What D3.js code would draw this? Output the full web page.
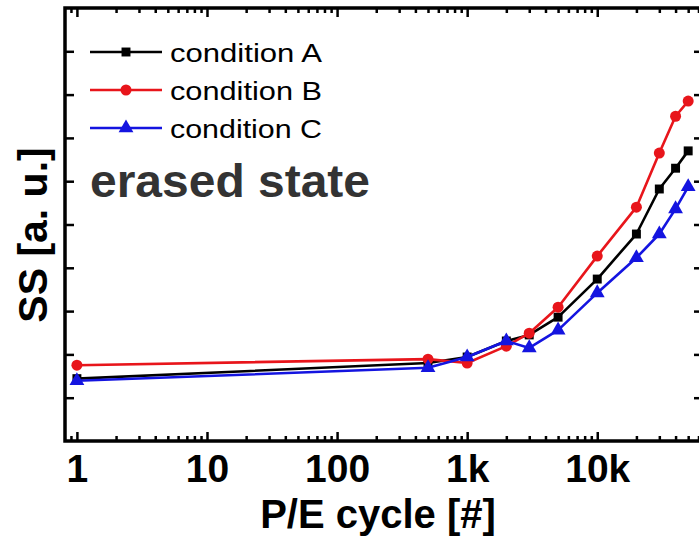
<!DOCTYPE html>
<html>
<head>
<meta charset="utf-8">
<script src="https://cdn.jsdelivr.net/npm/d3@7"></script>
<style>
  html, body { margin: 0; padding: 0; background: #fff; }
  svg { display: block; }
  text { font-family: "Liberation Sans", Arial, Helvetica, sans-serif; }
</style>
</head>
<body>
<svg id="chart" width="699" height="538"></svg>
<script>
// P/E cycle counts at which SS was measured
const cycles = [1, 500, 1000, 2000, 3000, 5000, 10000, 20000, 30000, 40000, 50000];
// SS values (arbitrary units) per condition
const condA = [1.44, 1.80, 1.94, 2.31, 2.45, 2.86, 3.74, 4.78, 5.82, 6.30, 6.70];
const condB = [1.75, 1.89, 1.80, 2.19, 2.49, 3.09, 4.27, 5.40, 6.65, 7.50, 7.85];
const condC = [1.39, 1.69, 1.94, 2.31, 2.15, 2.56, 3.42, 4.23, 4.78, 5.36, 5.87];

const seriesNames = ["condition A", "condition B", "condition C"];
const seriesColors = ["#000000", "#e8151b", "#1414e0"];
const seriesSymbols = [d3.symbolSquare, d3.symbolCircle, d3.symbolTriangle];
const seriesSymbolSizes = [80, 95, 95];

const xMajorTicks = [1, 10, 100, 1000, 10000];
const xTickLabels = ["1", "10", "100", "1k", "10k"];
const yTicks = [1, 2, 3, 4, 5, 6, 7, 8, 9];

const svg = d3.select("#chart");
const plotLeft = 65, plotRight = 703, plotTop = 8, plotBottom = 441;

const x = d3.scaleLog().domain([0.81, 65000]).range([plotLeft, plotRight]);
const y = d3.scaleLinear().domain([0, 10]).range([plotBottom, plotTop]);

// minor ticks: 2..9 within each decade
const xMinorTicks = [];
for (let dec = 0.1; dec <= 10000; dec *= 10) {
  for (let m = 2; m <= 9; m++) {
    const v = +(dec * m).toPrecision(3);
    if (v > x.domain()[0] && v < x.domain()[1]) xMinorTicks.push(v);
  }
}

const styleAxis = g => {
  g.select(".domain").remove();
  g.selectAll(".tick line").attr("stroke", "#000").attr("stroke-width", 2.5);
};

// bottom axis: major ticks with labels, inward
svg.append("g")
  .attr("transform", `translate(0,${plotBottom})`)
  .call(d3.axisBottom(x).tickValues(xMajorTicks).tickSize(-9).tickPadding(29)
        .tickFormat((d, i) => xTickLabels[i]))
  .call(styleAxis)
  .call(g => g.selectAll(".tick text")
    .attr("fill", "#000").attr("font-size", 39).attr("font-weight", "bold")
    .attr("font-family", "'Liberation Sans', Arial, sans-serif")
    .attr("dy", "0.32em"));

svg.append("g")
  .attr("transform", `translate(0,${plotBottom})`)
  .call(d3.axisBottom(x).tickValues(xMinorTicks).tickSize(-5).tickFormat(""))
  .call(styleAxis);

// top axis: mirrored ticks, no labels
svg.append("g")
  .attr("transform", `translate(0,${plotTop})`)
  .call(d3.axisTop(x).tickValues(xMajorTicks).tickSize(-9).tickFormat(""))
  .call(styleAxis);
svg.append("g")
  .attr("transform", `translate(0,${plotTop})`)
  .call(d3.axisTop(x).tickValues(xMinorTicks).tickSize(-5).tickFormat(""))
  .call(styleAxis);

// left and right axes: inward ticks, no labels
svg.append("g")
  .attr("transform", `translate(${plotLeft},0)`)
  .call(d3.axisLeft(y).tickValues(yTicks).tickSize(-9).tickFormat(""))
  .call(styleAxis);
svg.append("g")
  .attr("transform", `translate(${plotRight},0)`)
  .call(d3.axisRight(y).tickValues(yTicks).tickSize(-9).tickFormat(""))
  .call(styleAxis);

// plot frame
svg.append("rect")
  .attr("x", plotLeft).attr("y", plotTop)
  .attr("width", plotRight - plotLeft).attr("height", plotBottom - plotTop)
  .attr("fill", "none").attr("stroke", "#000").attr("stroke-width", 3.5);

// data series
const seriesValues = [condA, condB, condC];
const line = d3.line().x(d => x(d[0])).y(d => y(d[1]));

seriesValues.forEach((vals, si) => {
  const pts = cycles.map((c, i) => [c, vals[i]]);
  const g = svg.append("g");
  g.append("path")
    .attr("d", line(pts))
    .attr("fill", "none")
    .attr("stroke", seriesColors[si])
    .attr("stroke-width", 2.6)
    .attr("stroke-linejoin", "round");
  g.selectAll("path.pt").data(pts).join("path")
    .attr("class", "pt")
    .attr("transform", d => `translate(${x(d[0])},${y(d[1])})`)
    .attr("d", d3.symbol().type(seriesSymbols[si]).size(seriesSymbolSizes[si]))
    .attr("fill", seriesColors[si]);
});

// legend
const legend = svg.append("g");
const legendRows = [52, 90, 128];
seriesNames.forEach((name, si) => {
  const ly = legendRows[si];
  legend.append("line")
    .attr("x1", 90).attr("x2", 162).attr("y1", ly).attr("y2", ly)
    .attr("stroke", seriesColors[si]).attr("stroke-width", 2.6);
  legend.append("path")
    .attr("transform", `translate(126,${ly})`)
    .attr("d", d3.symbol().type(seriesSymbols[si]).size(seriesSymbolSizes[si]))
    .attr("fill", seriesColors[si]);
  legend.append("text")
    .attr("x", 170).attr("y", ly + 10)
    .attr("font-size", 26)
    .attr("textLength", 152).attr("lengthAdjust", "spacingAndGlyphs")
    .attr("fill", "#000")
    .text(name);
});

// annotation
svg.append("text")
  .attr("x", 90).attr("y", 197)
  .attr("font-size", 46).attr("font-weight", "bold")
  .attr("fill", "#333")
  .attr("textLength", 280).attr("lengthAdjust", "spacingAndGlyphs")
  .text("erased state");

// axis titles
svg.append("text")
  .attr("x", 378).attr("y", 528)
  .attr("text-anchor", "middle")
  .attr("font-size", 40).attr("font-weight", "bold")
  .attr("fill", "#000")
  .text("P/E cycle [#]");

svg.append("text")
  .attr("transform", "translate(47,235) rotate(-90)")
  .attr("text-anchor", "middle")
  .attr("font-size", 41).attr("font-weight", "bold")
  .attr("fill", "#000")
  .text("SS [a. u.]");
</script>
</body>
</html>
